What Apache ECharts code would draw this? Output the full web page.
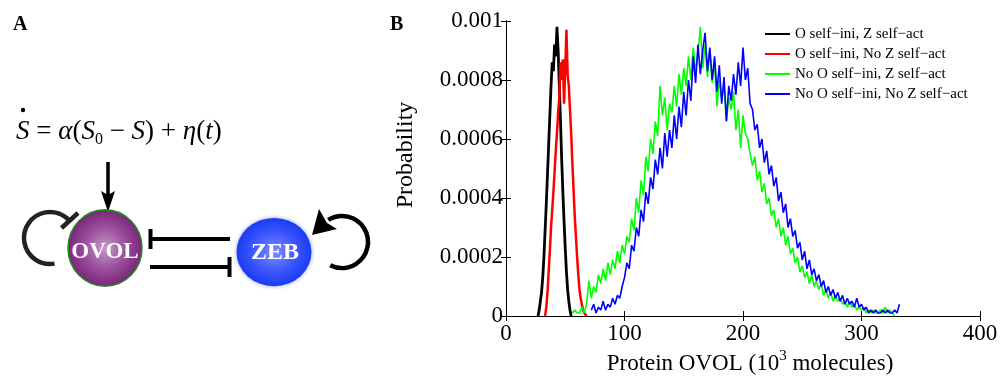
<!DOCTYPE html>
<html><head><meta charset="utf-8">
<script src="https://cdn.jsdelivr.net/npm/echarts@6/dist/echarts.min.js"></script>
<style>html,body{margin:0;padding:0;background:#fff}#c{width:1000px;height:377px}</style>
</head><body><div id="c"></div>
<script>
const seriesNames = ['O self\u2212ini, Z self\u2212act', 'O self\u2212ini, No Z self\u2212act', 'No O self\u2212ini, Z self\u2212act', 'No O self\u2212ini, No Z self\u2212act'];
const seriesColors = ['#000000', '#ff0000', '#00ff00', '#0000ff'];
const xTickLabels = ['0', '100', '200', '300', '400'];
const yTickLabels = ['0', '0.0002', '0.0004', '0.0006', '0.0008', '0.001'];

const blackData = [[27,0],[28,0.00002],[29,0.00005],[30,0.00008],[31,0.00013],[32,0.0002],[33,0.00029],[34,0.00038],[35,0.00048],[36,0.00058],[37,0.00068],[38,0.00078],[39,0.00086],[40,0.00083],[41,0.00092],[42,0.00088],[43,0.00098],[44,0.0009],[45,0.00078],[46,0.00066],[47,0.00053],[48,0.00042],[49,0.00032],[50,0.00023],[51,0.00015],[52,0.00009],[53,0.00005],[54,0.00002],[55,0]];

const redData = [[33,0],[34,0.00003],[35,0.00008],[36,0.00015],[37,0.00022],[38,0.0003],[39,0.00036],[40,0.00042],[41,0.00049],[42,0.00056],[43,0.00062],[44,0.00069],[45,0.00074],[46,0.00086],[47,0.0008],[48,0.00087],[49,0.00072],[50,0.00084],[51,0.00097],[52,0.00082],[53,0.00078],[54,0.0007],[55,0.00062],[56,0.00052],[57,0.00043],[58,0.00034],[59,0.00027],[60,0.0002],[61,0.00014],[62,0.00009],[63,0.00006],[64,0.00004],[65,0.00002],[66,0.00001],[67,0.00001],[68,0]];

const greenData = [[56,0.00001],[58,0.00002],[60,0.00001],[62,0.00001],[64,0.00003],[66,0.00001],[68,0.00004],[70,0.00012],[72,0.00006],[74,0.0001],[76,0.00008],[78,0.00014],[80,0.00011],[82,0.00016],[84,0.00012],[86,0.00018],[88,0.00014],[90,0.00019],[92,0.00016],[94,0.00022],[96,0.00018],[98,0.00024],[100,0.00021],[102,0.00027],[104,0.00025],[106,0.00033],[108,0.00029],[110,0.0004],[112,0.00035],[114,0.00046],[116,0.00041],[118,0.00054],[120,0.00049],[122,0.0006],[124,0.00055],[126,0.00066],[128,0.00061],[130,0.00078],[132,0.00068],[134,0.00074],[136,0.00063],[138,0.00072],[140,0.00069],[142,0.00078],[144,0.00071],[146,0.00082],[148,0.00075],[150,0.00084],[152,0.00078],[154,0.00088],[156,0.0008],[158,0.00091],[160,0.00083],[162,0.00089],[164,0.00098],[166,0.00084],[168,0.00092],[170,0.00081],[172,0.0009],[174,0.00079],[176,0.00086],[178,0.00071],[180,0.0008],[182,0.00074],[184,0.00078],[186,0.00066],[188,0.00074],[190,0.0007],[192,0.00076],[194,0.00063],[196,0.0007],[198,0.00057],[200,0.00068],[202,0.00062],[204,0.0006],[206,0.00055],[208,0.00051],[210,0.00054],[212,0.00046],[214,0.00049],[216,0.00042],[218,0.00045],[220,0.00038],[222,0.0004],[224,0.00034],[226,0.00036],[228,0.0003],[230,0.00033],[232,0.00027],[234,0.0003],[236,0.00024],[238,0.00027],[240,0.00021],[242,0.00023],[244,0.00018],[246,0.0002],[248,0.00015],[250,0.00017],[252,0.00013],[254,0.00015],[256,0.00011],[258,0.00014],[260,0.0001],[262,0.00012],[264,0.00009],[266,0.00011],[268,0.00007],[270,0.00009],[272,0.00006],[274,0.00008],[276,0.00005],[278,0.00007],[280,0.00005],[282,0.00006],[284,0.00004],[286,0.00005],[288,0.00003],[290,0.00005],[292,0.00003],[294,0.00004],[296,0.00002],[298,0.00003],[300,0.00002],[302,0.00003],[304,0.00001],[306,0.00002],[308,0.00001],[310,0.00002],[312,0.00001],[314,0.00001],[316,0.00002],[318,0.00001],[320,0.00003],[322,0.00001],[324,0.00002],[326,0.00001],[328,0]];

const blueData = [[72,0.00002],[74,0.00004],[76,0.00001],[78,0.00003],[80,0.00002],[82,0.00005],[84,0.00002],[86,0.00004],[88,0.00003],[90,0.00006],[92,0.00004],[94,0.00007],[96,0.00006],[98,0.0001],[100,0.00013],[102,0.00018],[104,0.00016],[106,0.00024],[108,0.00022],[110,0.0003],[112,0.00027],[114,0.00036],[116,0.00032],[118,0.00042],[120,0.00038],[122,0.00047],[124,0.00043],[126,0.00053],[128,0.00048],[130,0.00057],[132,0.0005],[134,0.00062],[136,0.00054],[138,0.00063],[140,0.00057],[142,0.00068],[144,0.0006],[146,0.00071],[148,0.00064],[150,0.00076],[152,0.00068],[154,0.0008],[156,0.00073],[158,0.00088],[160,0.00079],[162,0.00092],[164,0.00082],[166,0.0009],[168,0.00096],[170,0.00083],[172,0.00091],[174,0.0008],[176,0.00088],[178,0.00076],[180,0.00085],[182,0.00072],[184,0.00081],[186,0.00066],[188,0.00078],[190,0.00073],[192,0.00082],[194,0.00075],[196,0.00086],[198,0.00078],[200,0.00091],[202,0.0008],[204,0.00084],[206,0.00072],[208,0.0007],[210,0.00063],[212,0.00065],[214,0.00057],[216,0.0006],[218,0.00052],[220,0.00056],[222,0.00048],[224,0.00051],[226,0.00044],[228,0.00047],[230,0.00039],[232,0.00042],[234,0.00035],[236,0.00038],[238,0.0003],[240,0.00033],[242,0.00027],[244,0.00029],[246,0.00023],[248,0.00025],[250,0.00019],[252,0.00022],[254,0.00016],[256,0.00019],[258,0.00014],[260,0.00016],[262,0.00012],[264,0.00014],[266,0.0001],[268,0.00012],[270,0.00008],[272,0.0001],[274,0.00007],[276,0.00009],[278,0.00006],[280,0.00008],[282,0.00005],[284,0.00007],[286,0.00004],[288,0.00006],[290,0.00004],[292,0.00005],[294,0.00003],[296,0.00006],[298,0.00003],[300,0.00004],[302,0.00002],[304,0.00003],[306,0.00001],[308,0.00002],[310,0.00001],[312,0.00002],[314,0.00001],[316,0.00001],[318,0.00002],[320,0.00001],[322,0.00002],[324,0.00001],[326,0.00001],[328,0.00002],[330,0.00001],[332,0.00004]];

const allData = [blackData, redData, greenData, blueData];
const lineWidths = [2.8, 2.5, 1.6, 1.6];

const SERIF = 'Liberation Serif';
const deg = Math.PI / 180;
const chart = echarts.init(document.getElementById('c'), null, {renderer: 'canvas'});

const axisCommon = {
  min: 0,
  axisLine: {show: true, lineStyle: {color: '#000', width: 1}},
  axisTick: {show: true, inside: true, length: 5, lineStyle: {color: '#000'}},
  splitLine: {show: false}
};

const option = {
  backgroundColor: '#fff',
  animation: false,
  grid: {left: 506, right: 20, top: 21, bottom: 61, containLabel: false, outerBoundsMode: 'none'},
  legend: {
    orient: 'vertical', left: 765, top: 24, padding: 0, itemGap: 0,
    itemWidth: 25, itemHeight: 2, icon: 'rect',
    data: seriesNames,
    textStyle: {fontFamily: SERIF, fontSize: 15, color: '#000', lineHeight: 20}
  },
  xAxis: [
    Object.assign({}, axisCommon, {type: 'value', position: 'bottom', max: 400, interval: 100,
      axisLabel: {show: true, margin: 6, color: '#000', fontFamily: SERIF, fontSize: 23,
        formatter: v => xTickLabels[Math.round(v / 100)]}}),
    Object.assign({}, axisCommon, {type: 'value', position: 'top', max: 400, interval: 100,
      axisLabel: {show: false}})
  ],
  yAxis: [
    Object.assign({}, axisCommon, {type: 'value', position: 'left', max: 0.001, interval: 0.0002,
      axisLabel: {show: true, margin: 3, color: '#000', fontFamily: SERIF, fontSize: 23,
        formatter: v => yTickLabels[Math.round(v / 0.0002)]}}),
    Object.assign({}, axisCommon, {type: 'value', position: 'right', max: 0.001, interval: 0.0002,
      axisLabel: {show: false}})
  ],
  series: allData.map((d, i) => ({
    name: seriesNames[i], type: 'line', data: d, symbol: 'none', showSymbol: false, xAxisIndex: 0, yAxisIndex: 0,
    lineStyle: {color: seriesColors[i], width: lineWidths[i]}, itemStyle: {color: seriesColors[i]},
    emphasis: {disabled: true}, z: 2 + i
  })),
  graphic: {elements: [
    {type: 'text', x: 13, y: 15, style: {text: 'A', fontFamily: SERIF, fontWeight: 'bold', fontSize: 20, fill: '#000', align: 'left', verticalAlign: 'top', textAlign: 'left', textVerticalAlign: 'top'}},
    {type: 'text', x: 390, y: 15, style: {text: 'B', fontFamily: SERIF, fontWeight: 'bold', fontSize: 20, fill: '#000', align: 'left', verticalAlign: 'top', textAlign: 'left', textVerticalAlign: 'top'}},
    {type: 'circle', shape: {cx: 23, cy: 110, r: 2.2}, style: {fill: '#000'}},
    {type: 'text', x: 16, y: 132, style: {
      text: '{it|S}{n| = }{it|\u03b1}{n|(}{it|S}{sub|0}{n| \u2212 }{it|S}{n|) + }{it|\u03b7}{n|(}{it|t}{n|)}',
      fontFamily: SERIF, fontSize: 26, fill: '#000', align: 'left', verticalAlign: 'middle', textAlign: 'left', textVerticalAlign: 'middle',
      rich: {
        it: {fontFamily: SERIF, fontStyle: 'italic', fontSize: 27, lineHeight: 32, fill: '#000'},
        n: {fontFamily: SERIF, fontSize: 27, lineHeight: 32, fill: '#000'},
        sub: {fontFamily: SERIF, fontSize: 16, lineHeight: 16, verticalAlign: 'bottom', fill: '#000'}
      }}},
    {type: 'line', shape: {x1: 108, y1: 162, x2: 108, y2: 196}, style: {stroke: '#000', lineWidth: 3.5}},
    {type: 'polygon', shape: {points: [[101, 191], [108, 195], [115, 191], [108, 212]]}, style: {fill: '#000'}},
    {type: 'arc', shape: {cx: 50, cy: 238, r: 26, startAngle: 80 * deg, endAngle: 318 * deg, clockwise: true}, style: {stroke: '#222', lineWidth: 4.5, fill: null}},
    {type: 'line', shape: {x1: 61.5, y1: 228, x2: 78, y2: 213}, style: {stroke: '#222', lineWidth: 4.5}},
    {type: 'arc', shape: {cx: 342, cy: 242, r: 26, startAngle: -122 * deg, endAngle: 117 * deg, clockwise: true}, style: {stroke: '#000', lineWidth: 4.5, fill: null}},
    {type: 'polygon', shape: {points: [[312, 235], [319, 209], [327, 223], [337, 229]]}, style: {fill: '#000'}},
    {type: 'line', shape: {x1: 230, y1: 239, x2: 152, y2: 239}, style: {stroke: '#000', lineWidth: 4}},
    {type: 'line', shape: {x1: 150.5, y1: 229, x2: 150.5, y2: 249}, style: {stroke: '#000', lineWidth: 4}},
    {type: 'line', shape: {x1: 150, y1: 267, x2: 229, y2: 267}, style: {stroke: '#000', lineWidth: 4}},
    {type: 'line', shape: {x1: 229.5, y1: 257, x2: 229.5, y2: 277}, style: {stroke: '#000', lineWidth: 4}},
    {type: 'circle', x: 105, y: 248, scaleY: 1.03, shape: {cx: 0, cy: 0, r: 37}, style: {
      fill: {type: 'radial', x: 0.5, y: 0.5, r: 0.5, colorStops: [{offset: 0, color: '#c49ac6'}, {offset: 0.55, color: '#9a4f9c'}, {offset: 1, color: '#782478'}]},
      stroke: '#1f8a1f', lineWidth: 1.5}},
    {type: 'text', x: 105, y: 252, style: {text: 'OVOL', fontFamily: SERIF, fontWeight: 'bold', fontSize: 23, fill: '#fff', align: 'center', verticalAlign: 'middle', textAlign: 'center', textVerticalAlign: 'middle'}},
    {type: 'circle', x: 274, y: 252, scaleY: 0.91, shape: {cx: 0, cy: 0, r: 37.5}, style: {
      fill: {type: 'radial', x: 0.5, y: 0.5, r: 0.5, colorStops: [{offset: 0, color: '#7f8cff'}, {offset: 0.6, color: '#3a55ff'}, {offset: 1, color: '#1a3cf0'}]},
      shadowBlur: 4, shadowColor: 'rgba(40,60,200,0.5)'}},
    {type: 'text', x: 275, y: 253, style: {text: 'ZEB', fontFamily: SERIF, fontWeight: 'bold', fontSize: 24, fill: '#fff', align: 'center', verticalAlign: 'middle', textAlign: 'center', textVerticalAlign: 'middle'}},
    {type: 'text', x: 406, y: 155, rotation: Math.PI / 2, style: {text: 'Probability', fontFamily: SERIF, fontSize: 24, fill: '#000', align: 'center', verticalAlign: 'middle', textAlign: 'center', textVerticalAlign: 'middle'}},
    {type: 'text', x: 750, y: 364, style: {
      text: '{n|Protein OVOL (10}{sup|3}{n| molecules)}',
      fontFamily: SERIF, fontSize: 23, fill: '#000', align: 'center', verticalAlign: 'middle', textAlign: 'center', textVerticalAlign: 'middle',
      rich: {
        n: {fontFamily: SERIF, fontSize: 23, lineHeight: 30, fill: '#000'},
        sup: {fontFamily: SERIF, fontSize: 15, lineHeight: 15, verticalAlign: 'top', fill: '#000'}
      }}}
  ]}
};
chart.setOption(option);
</script>
</body></html>
